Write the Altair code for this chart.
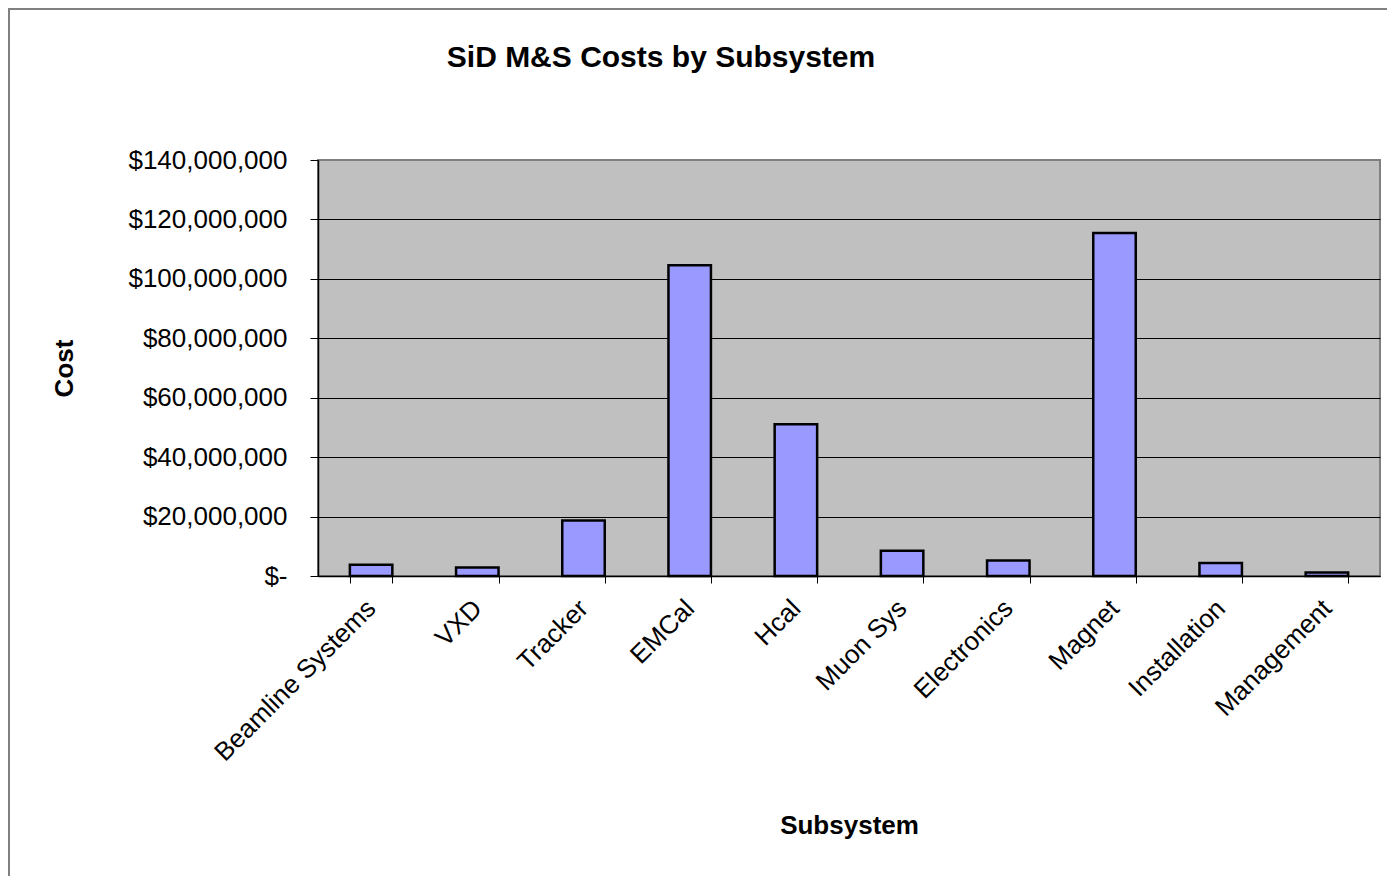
import altair as alt
import pandas as pd

categories = ["Beamline Systems", "VXD", "Tracker", "EMCal", "Hcal",
              "Muon Sys", "Electronics", "Magnet", "Installation", "Management"]
costs = [3.8e6, 2.9e6, 18.7e6, 104.6e6, 51.1e6, 8.5e6, 5.2e6, 115.4e6, 4.4e6, 1.2e6]
y_ticks = [0, 20e6, 40e6, 60e6, 80e6, 100e6, 120e6, 140e6]
chart_title = "SiD M&S Costs by Subsystem"

df = pd.DataFrame({"Subsystem": categories, "Cost": costs})

FONT = "Liberation Sans, Arial, sans-serif"

bars = alt.Chart(df).mark_bar(
    fill="#9999FF", stroke="#000000", strokeWidth=2.5
).encode(
    x=alt.X("Subsystem:N", sort=categories,
            scale=alt.Scale(paddingInner=0.6, paddingOuter=0.3),
            axis=alt.Axis(
                title="Subsystem", labelAngle=-45, labelAlign="right",
                labelBaseline="middle", labelFontSize=26, labelFont=FONT,
                labelColor="#000000", labelPadding=21, labelLimit=600,
                tickBand="extent", tickSize=7, tickColor="#000000",
                domainColor="#000000", domainWidth=1.5,
                titleFontSize=26, titleFont=FONT, titleFontWeight="bold",
                titleColor="#000000", titleY=249, titleBaseline="middle",
                grid=False, labelOverlap=False)),
    y=alt.Y("Cost:Q",
            scale=alt.Scale(domain=[0, 140e6], nice=False),
            axis=alt.Axis(
                title="Cost", values=y_ticks,
                labelExpr="datum.value == 0 ? '$-' : format(datum.value, '$,.0f')",
                labelFontSize=26, labelFont=FONT, labelColor="#000000",
                labelPadding=23, tickSize=8, tickColor="#000000",
                domainColor="#000000", domainWidth=1.5,
                grid=True, gridWidth=1,
                gridColor={"condition": {"test": "datum.value >= 140000000",
                                         "value": "#808080"},
                           "value": "#000000"},
                titleFontSize=26, titleFont=FONT, titleFontWeight="bold",
                titleColor="#000000", titleAngle=-90, titleX=-254, titleY=208,
                titleBaseline="middle", titleAlign="center"))
)

one_row = pd.DataFrame({"title": [chart_title]})
border_top = alt.Chart(one_row).mark_rule(color="#808080", strokeWidth=2).encode(
    x=alt.value(-309), x2=alt.value(1080), y=alt.value(-151), y2=alt.value(-151))
border_left = alt.Chart(one_row).mark_rule(color="#808080", strokeWidth=2).encode(
    x=alt.value(-309), x2=alt.value(-309), y=alt.value(-152), y2=alt.value(720))
title_text = alt.Chart(one_row).mark_text(
    fontSize=30, fontWeight="bold", font=FONT, color="#000000",
    align="center", baseline="middle"
).encode(x=alt.value(343), y=alt.value(-102), text="title:N")

chart = alt.layer(border_top, border_left, title_text, bars).properties(
    width=1062, height=416,
    autosize="none",
    padding={"left": 310, "top": 152, "right": 7, "bottom": 300},
).configure(background="#FFFFFF").configure_view(
    fill="#C0C0C0", stroke="#808080", strokeWidth=2
)

chart.save("out.html", embed_options={"renderer": "svg", "actions": False})
